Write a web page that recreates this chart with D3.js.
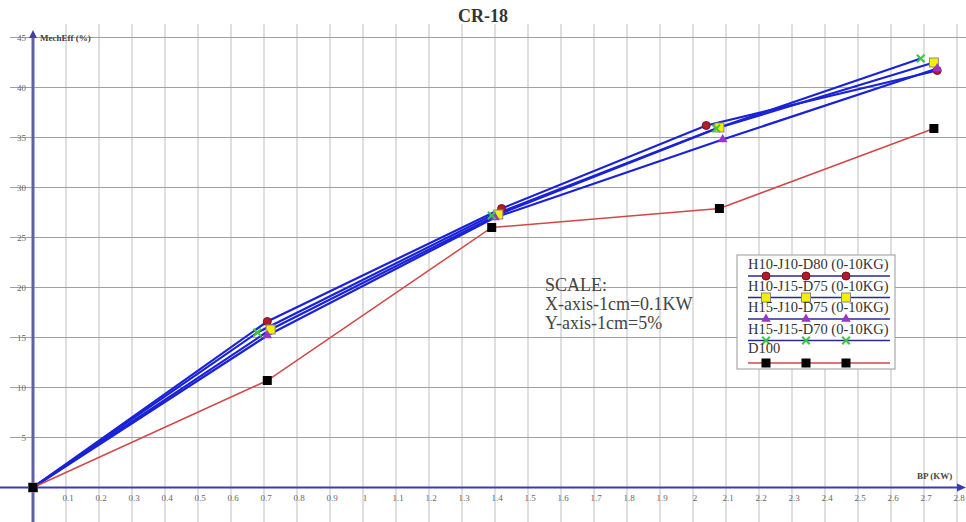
<!DOCTYPE html>
<html><head><meta charset="utf-8">
<script src="https://cdn.jsdelivr.net/npm/d3@7"></script>
<style>body{margin:0;background:#fff}svg{display:block}</style>
</head><body>
<script>
// ---- data ----
const seriesNames = ["H10-J10-D80 (0-10KG)","H10-J15-D75 (0-10KG)","H15-J10-D75 (0-10KG)","H15-J15-D70 (0-10KG)","D100"];
const bpH10J10D80 = [0, 0.71, 1.42, 2.04, 2.74];
const effH10J10D80 = [0, 16.6, 27.9, 36.2, 41.7];
const bpH10J15D75 = [0, 0.72, 1.41, 2.08, 2.73];
const effH10J15D75 = [0, 15.8, 27.3, 36.0, 42.5];
const bpH15J10D75 = [0, 0.71, 1.40, 2.09, 2.74];
const effH15J10D75 = [0, 15.2, 27.0, 34.8, 41.9];
const bpH15J15D70 = [0, 0.68, 1.39, 2.07, 2.69];
const effH15J15D70 = [0, 15.5, 27.2, 35.9, 42.9];
const bpD100 = [0, 0.71, 1.39, 2.08, 2.73];
const effD100 = [0, 10.7, 26.0, 27.9, 35.9];
const xTicks = [0.1,0.2,0.3,0.4,0.5,0.6,0.7,0.8,0.9,1,1.1,1.2,1.3,1.4,1.5,1.6,1.7,1.8,1.9,2,2.1,2.2,2.3,2.4,2.5,2.6,2.7,2.8];
const yTicks = [5,10,15,20,25,30,35,40,45];
const scaleLines = ["SCALE:", "X-axis-1cm=0.1KW", "Y-axis-1cm=5%"];

const W = 966, H = 522;
const svg = d3.select("body").append("svg").attr("width", W).attr("height", H);
const x = d3.scaleLinear().domain([0, 2.8]).range([33, 957]);
const y = d3.scaleLinear().domain([0, 45]).range([487.5, 37.5]);

// grid
const g = svg.append("g");
g.selectAll(".vg").data(xTicks).join("line")
  .attr("x1", d => x(d)).attr("x2", d => x(d)).attr("y1", 24).attr("y2", H)
  .attr("stroke", "#cacaca").attr("stroke-width", 1.2);
g.selectAll(".hg").data(yTicks).join("line")
  .attr("x1", 10).attr("x2", W).attr("y1", d => y(d)).attr("y2", d => y(d))
  .attr("stroke", "#a0a0a0").attr("stroke-width", 1.2);

// axes
svg.append("line").attr("x1", 0).attr("x2", W - 4).attr("y1", y(0)).attr("y2", y(0))
  .attr("stroke", "#3b3bb0").attr("stroke-width", 2);
svg.append("path").attr("d", `M${W},${y(0)} l-9,-4 l0,8 z`).attr("fill", "#3b3bb0");
svg.append("line").attr("x1", x(0)).attr("x2", x(0)).attr("y1", 34).attr("y2", H)
  .attr("stroke", "#6060a8").attr("stroke-width", 3);
svg.append("path").attr("d", `M${x(0)},30 l-4,8 l8,0 z`).attr("fill", "#4040a0");

// tick labels
svg.selectAll(".xt").data(xTicks).join("text")
  .attr("x", d => x(d) + 2).attr("y", y(0) + 13)
  .attr("font-family", "Liberation Serif, serif").attr("font-size", 9).attr("fill", "#666")
  .attr("text-anchor", "middle").text(d => d);
svg.selectAll(".yt").data(yTicks).join("text")
  .attr("x", 26).attr("y", d => y(d) + 3)
  .attr("font-family", "Liberation Serif, serif").attr("font-size", 9).attr("fill", "#666")
  .attr("text-anchor", "end").text(d => d);

// labels
svg.append("text").attr("x", 40).attr("y", 41).attr("font-family", "Liberation Serif, serif")
  .attr("font-size", 9).attr("font-weight", "bold").attr("fill", "#444").text("MechEff (%)");
svg.append("text").attr("x", 917).attr("y", 479).attr("font-family", "Liberation Serif, serif")
  .attr("font-size", 9).attr("font-weight", "bold").attr("fill", "#444").text("BP (KW)");
svg.append("text").attr("x", 483).attr("y", 22).attr("text-anchor", "middle")
  .attr("font-family", "Liberation Serif, serif").attr("font-size", 18).attr("font-weight", "bold")
  .attr("fill", "#333").text("CR-18");

// scale text
svg.selectAll(".sc").data(scaleLines).join("text")
  .attr("x", 545).attr("y", (d, i) => 291 + i * 19)
  .attr("font-family", "Liberation Serif, serif").attr("font-size", 18).attr("fill", "#444").text(d => d);

// series
const series = [
  {name: seriesNames[0], xs: bpH10J10D80, ys: effH10J10D80, line: "#1a22d6", marker: "circle", fill: "#b01c2c"},
  {name: seriesNames[1], xs: bpH10J15D75, ys: effH10J15D75, line: "#1a22d6", marker: "square", fill: "#f5f000"},
  {name: seriesNames[2], xs: bpH15J10D75, ys: effH15J10D75, line: "#1a22d6", marker: "triangle", fill: "#9a35c8"},
  {name: seriesNames[3], xs: bpH15J15D70, ys: effH15J15D70, line: "#1a22d6", marker: "cross", fill: "#3cc83c"},
  {name: seriesNames[4], xs: bpD100, ys: effD100, line: "#d04848", marker: "bsquare", fill: "#000"}
];
const lineGen = d3.line().x(d => x(d[0])).y(d => y(d[1]));

function drawMarker(sel, type, fill) {
  if (type === "circle") sel.append("circle").attr("r", 4).attr("fill", fill).attr("stroke", "#7a1020");
  else if (type === "square") sel.append("rect").attr("x", -4.5).attr("y", -4.5).attr("width", 9).attr("height", 9).attr("fill", fill).attr("stroke", "#888");
  else if (type === "triangle") sel.append("path").attr("d", d3.symbol(d3.symbolTriangle, 40)()).attr("fill", fill);
  else if (type === "cross") sel.append("path").attr("d", d3.symbol(d3.symbolX, 40)()).attr("stroke", fill).attr("stroke-width", 2).attr("fill", "none");
  else sel.append("rect").attr("x", -4.5).attr("y", -4.5).attr("width", 9).attr("height", 9).attr("fill", fill);
}

series.forEach(s => {
  const pts = s.xs.map((v, i) => [v, s.ys[i]]);
  svg.append("path").datum(pts).attr("d", lineGen).attr("fill", "none")
    .attr("stroke", s.line).attr("stroke-width", s.marker === "bsquare" ? 1.5 : 2.2);
});
series.forEach(s => {
  s.xs.forEach((v, i) => {
    const m = svg.append("g").attr("transform", `translate(${x(v)},${y(s.ys[i])})`);
    drawMarker(m, s.marker, s.fill);
  });
});

// legend
const lg = svg.append("g");
lg.append("rect").attr("x", 737).attr("y", 255).attr("width", 158).attr("height", 114)
  .attr("fill", "#fff").attr("stroke", "#999");
const mx = [766, 806, 846];
series.forEach((s, i) => {
  const ty = 269 + i * 21.5 - (i === 4 ? 2 : 0);
  const ly = ty + 7 + (i === 4 ? 3 : 0);
  lg.append("text").attr("x", 748).attr("y", ty).attr("font-family", "Liberation Serif, serif")
    .attr("font-size", 14.5).attr("fill", "#333").text(s.name);
  lg.append("line").attr("x1", 748).attr("x2", 890).attr("y1", ly).attr("y2", ly)
    .attr("stroke", s.marker === "bsquare" ? "#d04848" : "#2a2a90").attr("stroke-width", 1.5);
  mx.forEach(px => {
    const m = lg.append("g").attr("transform", `translate(${px},${ly})`);
    drawMarker(m, s.marker, s.fill);
  });
});
</script>
</body></html>
